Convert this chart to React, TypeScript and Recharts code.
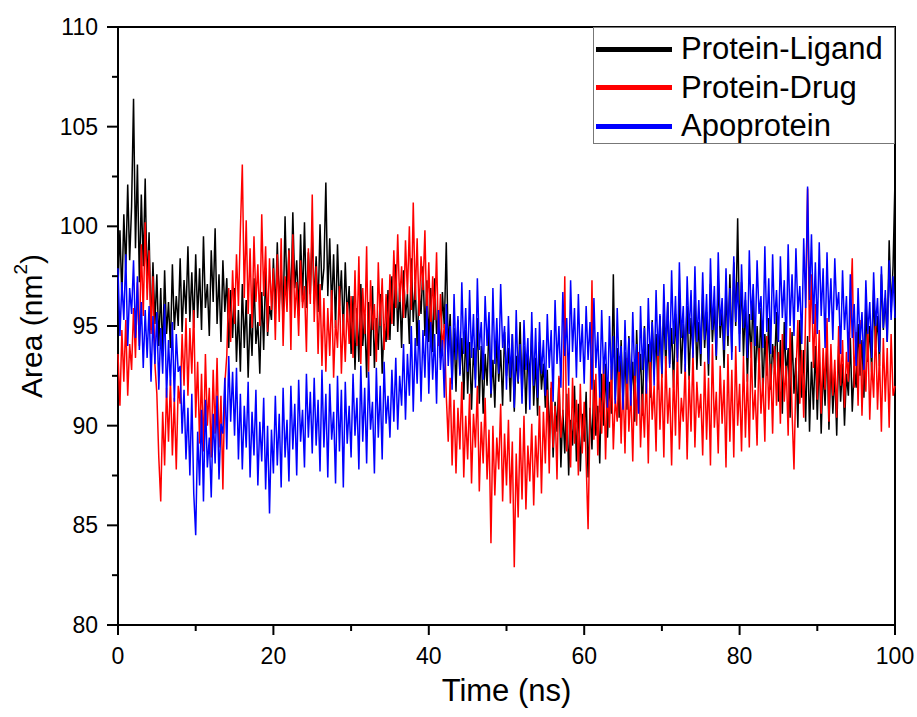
import { LineChart, Line, XAxis, YAxis, ReferenceArea, Legend, Label } from 'recharts'

// Area (nm^2) every 0.25 ns, 0–100 ns
const PROTEIN_LIGAND = [
  97.0, 99.8, 96.4, 100.6, 97.8, 102.1, 98.3, 101.0, 106.4, 98.9,
  103.1, 97.2, 101.6, 98.0, 102.4, 96.9, 99.7, 94.8, 98.2, 95.1,
  97.6, 94.0, 96.9, 93.5, 97.8, 94.6, 96.2, 93.9, 98.1, 94.8,
  96.5, 95.0, 98.4, 94.7, 97.3, 95.6, 99.0, 95.2, 97.7, 94.9,
  98.6, 95.4, 97.9, 94.8, 99.5, 95.9, 97.1, 94.5, 98.8, 96.2,
  99.9, 95.1, 97.6, 94.2, 98.3, 95.7, 97.4, 93.9, 96.8, 94.4,
  96.9, 93.2, 95.8, 92.7, 97.1, 93.9, 96.3, 92.4, 95.6, 93.5,
  97.4, 94.1, 95.2, 92.6, 96.7, 93.8, 97.9, 94.5, 96.0, 95.3,
  98.4, 95.6, 99.2, 96.0, 98.0, 95.2, 100.5, 96.4, 98.9, 95.8,
  100.7, 96.9, 98.3, 95.5, 99.6, 96.2, 100.2, 95.9, 98.7, 96.6,
  99.8, 96.1, 98.5, 95.7, 100.1, 96.8, 97.9, 102.2, 96.5, 99.4,
  95.8, 98.6, 94.9, 99.1, 96.0, 97.8, 94.6, 98.2, 95.4, 97.0,
  93.6, 96.5, 92.8, 95.9, 93.2, 97.1, 94.0, 95.6, 92.4, 96.2,
  93.5, 97.0, 92.9, 95.4, 93.8, 96.6, 92.6, 95.1, 94.2, 96.8,
  94.3, 97.5, 95.0, 98.1, 94.7, 96.9, 93.9, 97.8, 95.4, 96.6,
  94.1, 98.4, 95.2, 97.2, 94.0, 96.8, 95.6, 98.0, 94.5, 97.3,
  94.2, 96.9, 93.7, 97.4, 94.6, 95.8, 93.4, 96.7, 94.9, 99.2,
  93.8, 95.6, 92.1, 94.9, 91.7, 95.3, 92.6, 94.4, 91.3, 94.8,
  91.6, 94.2, 90.8, 93.9, 92.3, 95.4, 91.1, 94.0, 90.6, 93.6,
  92.0, 95.1, 91.4, 93.3, 90.9, 94.5, 92.2, 93.8, 91.0, 94.7,
  92.5, 93.9, 91.2, 94.6, 90.7, 93.5, 92.1, 95.2, 91.5, 94.0,
  90.6, 93.8, 92.4, 94.8, 91.0, 93.4, 90.5, 94.2, 91.8, 93.1,
  90.9, 92.8, 89.3, 91.9, 88.4, 91.2, 89.7, 92.4, 87.9, 90.8,
  88.6, 91.6, 87.5, 90.3, 89.0, 92.0, 88.2, 91.1, 87.7, 90.6,
  89.2, 91.7, 87.4, 90.9, 88.8, 92.3, 89.5, 91.0, 88.1, 92.6,
  90.0, 93.1, 89.4, 92.2, 90.6, 97.6, 91.3, 93.9, 90.4, 94.3,
  91.1, 93.7, 90.8, 94.5, 91.6, 93.2, 90.2, 94.8, 91.9, 93.6,
  90.5, 95.0, 92.2, 94.1, 91.4, 95.3, 92.7, 94.6, 91.8, 95.5,
  92.4, 95.8, 92.9, 96.2, 93.1, 94.9, 91.9, 95.6, 93.4, 96.5,
  92.6, 95.1, 93.8, 96.0, 92.3, 95.4, 93.6, 96.3, 92.8, 95.2,
  93.0, 96.6, 93.9, 95.7, 92.5, 97.1, 94.2, 96.0, 93.3, 97.4,
  94.4, 95.8, 92.9, 96.9, 94.0, 97.6, 93.7, 98.2, 95.0, 100.4,
  94.6, 97.2, 93.5, 96.3, 92.2, 95.6, 93.4, 96.8, 91.9, 95.0,
  92.8, 95.9, 91.5, 94.6, 92.5, 95.4, 91.8, 94.1, 92.9, 95.7,
  91.2, 94.3, 90.6, 95.2, 92.4, 93.9, 90.4, 94.7, 91.6, 93.4,
  89.9, 95.3, 91.4, 93.8, 90.2, 94.5, 89.7, 93.2, 90.8, 94.0,
  90.3, 93.6, 89.6, 92.9, 91.0, 94.2, 89.8, 93.4, 90.6, 92.7,
  89.5, 94.0, 91.2, 93.1, 90.0, 92.6, 91.5, 94.4, 90.7, 93.0,
  91.9, 95.1, 92.5, 94.3, 91.4, 96.2, 93.2, 95.0, 92.7, 96.8,
  93.9, 95.5, 93.0, 97.6, 94.8, 96.4, 94.2, 99.3, 95.7, 98.0,
  102.4,
]

const PROTEIN_DRUG = [
  93.6, 91.0, 94.8, 92.2, 95.3, 91.5, 94.1, 92.8, 95.9, 93.4,
  97.2, 94.0, 99.1, 95.5, 100.2, 96.3, 98.8, 94.6, 97.5, 93.1,
  91.6, 88.4, 86.2, 90.7, 88.0, 91.9, 89.2, 92.3, 88.5, 91.4,
  87.8, 92.0, 91.1, 94.6, 92.0, 95.4, 91.5, 94.9, 92.6, 95.8,
  90.4, 93.2, 89.1, 92.6, 88.7, 93.6, 90.0, 91.9, 88.4, 92.8,
  89.6, 93.4, 88.9, 91.5, 86.8, 92.1, 93.5, 96.9, 94.2, 97.8,
  95.1, 98.6, 96.0, 99.8, 103.1, 96.4, 100.3, 95.6, 98.9, 94.9,
  99.5, 96.2, 98.1, 95.0, 100.6, 96.5, 99.0, 94.7, 98.4, 95.8,
  97.9, 94.3, 98.6, 95.2, 99.4, 94.0, 97.5, 95.7, 98.8, 93.8,
  99.6, 95.4, 97.2, 94.5, 98.3, 95.9, 97.0, 93.7, 98.9, 96.1,
  101.6, 95.2, 98.0, 93.6, 97.1, 93.0, 96.4, 92.7, 95.9, 93.5,
  96.8, 92.4, 95.3, 93.9, 97.0, 92.6, 95.6, 93.2, 96.2, 94.1,
  96.5, 93.4, 97.8, 94.0, 98.5, 93.1, 96.9, 94.6, 99.0, 92.7,
  97.3, 94.8, 96.1, 93.2, 98.2, 95.0, 97.4, 93.8, 96.6, 94.3,
  97.6, 95.1, 98.8, 95.9, 99.6, 96.2, 98.0, 95.4, 99.3, 96.6,
  100.0, 95.8, 101.2, 96.3, 99.4, 95.5, 98.5, 96.8, 99.8, 95.2,
  98.2, 94.7, 97.5, 95.3, 98.7, 94.0, 96.6, 93.8, 95.1, 91.5,
  89.2, 92.4, 88.0, 91.3, 87.6, 90.9, 88.8, 92.2, 87.4, 90.5,
  88.3, 91.6, 87.1, 90.6, 88.9, 92.0, 86.7, 90.2, 88.1, 91.4,
  87.3, 89.8, 84.1, 90.0, 86.5, 89.4, 87.8, 91.1, 86.2, 89.6,
  87.0, 90.3, 86.1, 89.2, 82.9, 88.6, 85.4, 89.9, 86.3, 90.5,
  85.8, 89.0, 87.2, 90.1, 86.0, 89.5, 87.4, 91.0, 86.6, 90.7,
  88.1, 91.8, 87.6, 92.2, 88.9, 91.0, 87.3, 92.5, 89.4, 90.6,
  97.5, 88.7, 91.9, 87.9, 92.4, 89.1, 91.3, 87.5, 92.1, 88.6,
  91.2, 88.2, 84.8, 90.4, 97.3, 89.3, 92.6, 88.5, 91.7, 89.6,
  93.2, 88.3, 92.1, 89.9, 93.0, 88.8, 91.4, 90.2, 93.5, 89.1,
  92.3, 88.6, 93.4, 89.7, 91.8, 88.2, 92.9, 90.0, 93.7, 88.9,
  91.6, 89.4, 92.7, 88.1, 93.3, 90.3, 92.0, 88.7, 93.9, 89.8,
  92.6, 88.4, 93.5, 90.1, 91.9, 88.0, 92.8, 89.5, 94.0, 88.8,
  91.4, 90.2, 93.1, 88.3, 92.5, 89.7, 93.8, 88.9, 92.2, 90.4,
  91.6, 88.5, 93.2, 89.3, 92.4, 88.0, 94.1, 89.9, 91.7, 88.6,
  93.0, 90.1, 92.3, 87.9, 93.6, 89.2, 92.8, 88.4, 94.0, 90.0,
  92.1, 88.7, 93.5, 89.4, 92.6, 88.9, 94.2, 90.3, 91.8, 89.0,
  93.9, 90.6, 92.4, 89.2, 94.5, 90.8, 93.1, 89.6, 94.0, 91.0,
  93.7, 90.1, 94.6, 91.2, 93.0, 89.5, 94.9, 90.7, 87.8, 92.5,
  95.3, 91.1, 93.8, 90.4, 95.8, 101.9, 94.2, 97.6, 92.9, 96.1,
  91.3, 94.8, 90.6, 93.9, 91.8, 95.4, 90.2, 94.1, 91.5, 93.3,
  90.4, 95.0, 92.0, 94.3, 90.9, 93.7, 92.2, 95.6, 98.4, 91.9,
  94.7, 91.0, 95.3, 90.5, 93.8, 91.7, 94.9, 90.3, 93.2, 91.4,
  95.1, 90.8, 93.6, 89.7, 94.4, 91.2, 93.9, 89.9, 94.6, 91.5,
  92.0,
]

const APOPROTEIN = [
  97.9, 94.5, 97.2, 95.3, 98.6, 94.0, 96.9, 95.6, 98.3, 94.4,
  97.5, 93.8, 96.2, 92.9, 95.8, 93.4, 96.0, 92.2, 95.5, 93.1,
  95.7, 91.8, 94.9, 92.6, 96.1, 91.4, 94.3, 92.0, 95.2, 91.2,
  94.6, 92.7, 93.0, 89.6, 91.8, 88.3, 90.9, 87.5, 91.6, 86.6,
  84.5, 89.7, 87.0, 90.8, 86.2, 91.3, 87.9, 89.4, 86.4, 90.6,
  88.1, 91.5, 87.3, 90.1, 89.6, 92.4, 88.8, 93.5, 90.2, 92.7,
  89.5, 92.9, 88.3, 91.6, 87.8, 91.0, 88.9, 92.2, 87.4, 90.7,
  88.5, 91.8, 87.0, 90.2, 88.2, 91.4, 86.8, 90.0, 85.6, 89.8,
  87.6, 91.5, 88.0, 90.6, 86.9, 91.9, 88.4, 90.3, 87.2, 92.0,
  88.8, 91.1, 87.5, 92.3, 89.2, 90.8, 87.9, 92.6, 89.4, 91.7,
  88.6, 92.4, 89.0, 91.3, 87.7, 92.8, 88.9, 91.6, 87.4, 92.1,
  89.3, 90.7, 87.1, 92.5, 88.7, 91.8, 86.9, 92.2, 89.1, 91.0,
  88.4, 92.6, 89.5, 91.4, 87.8, 93.0, 89.2, 91.9, 88.1, 92.7,
  89.8, 91.2, 87.6, 92.9, 89.4, 92.0, 88.3, 93.2, 90.1, 91.5,
  89.4, 92.8, 90.2, 93.4, 89.8, 92.5, 91.0, 94.1, 90.3, 93.6,
  91.5, 95.0, 90.7, 94.4, 92.1, 95.3, 91.2, 94.8, 92.4, 96.0,
  91.6, 95.2, 92.3, 94.6, 91.1, 95.8, 92.8, 94.3, 91.4, 96.1,
  93.0, 95.0, 91.8, 96.6, 93.3, 95.5, 92.5, 97.2, 93.6, 95.9,
  92.7, 96.8, 93.4, 95.6, 91.9, 97.4, 93.8, 95.2, 92.3, 96.5,
  94.0, 95.7, 91.6, 96.9, 93.1, 95.4, 92.6, 97.1, 93.9, 95.0,
  91.8, 95.5, 92.4, 94.6, 90.9, 95.8, 92.2, 94.1, 91.1, 95.3,
  92.8, 94.4, 90.8, 95.7, 92.0, 94.9, 91.4, 95.2, 92.6, 94.3,
  91.5, 95.6, 92.9, 94.8, 91.2, 96.3, 93.1, 95.0, 91.9, 96.7,
  93.5, 95.4, 92.0, 97.3, 93.7, 95.9, 92.4, 96.6, 93.2, 95.1,
  92.1, 96.0, 93.3, 95.2, 91.8, 96.4, 92.9, 94.7, 91.4, 95.8,
  92.6, 94.2, 90.9, 95.5, 92.3, 94.5, 91.1, 95.9, 92.7, 94.0,
  90.8, 95.3, 92.1, 94.4, 91.0, 95.7, 92.5, 94.1, 90.6, 96.0,
  92.8, 94.9, 91.6, 96.4, 93.2, 95.2, 92.0, 96.8, 93.5, 95.6,
  92.6, 97.1, 93.8, 96.2, 92.9, 97.8, 94.1, 96.5, 93.2, 98.2,
  94.4, 96.0, 92.7, 97.5, 94.6, 96.8, 93.4, 98.0, 94.2, 96.3,
  93.6, 97.7, 94.3, 96.6, 93.1, 98.4, 94.8, 97.0, 93.5, 98.7,
  95.0, 96.4, 93.8, 97.9, 94.5, 96.9, 93.3, 98.5, 95.2, 97.2,
  93.7, 98.1, 94.9, 96.7, 93.4, 98.8, 95.3, 97.1, 94.0, 98.3,
  95.6, 96.5, 93.9, 99.0, 94.7, 97.4, 93.6, 98.6, 95.1, 96.8,
  94.2, 98.5, 95.4, 97.3, 93.8, 99.1, 95.0, 97.6, 94.5, 98.9,
  95.7, 97.0, 94.1, 99.4, 95.9, 102.0, 96.3, 99.6, 95.1, 98.2,
  94.6, 99.2, 95.5, 97.9, 93.9, 98.7, 95.2, 97.4, 94.3, 98.4,
  95.8, 96.7, 93.6, 97.8, 94.8, 96.5, 93.2, 97.6, 94.4, 96.1,
  93.0, 96.9, 94.1, 95.7, 92.8, 97.3, 94.6, 96.2, 93.4, 97.7,
  95.0, 96.4, 93.7, 98.0, 94.9, 96.8, 94.2, 98.3, 95.3, 97.5,
  95.4,
]

const X_TICKS = [0, 10, 20, 30, 40, 50, 60, 70, 80, 90, 100]
const Y_TICKS = [80, 82.5, 85, 87.5, 90, 92.5, 95, 97.5, 100, 102.5, 105, 107.5, 110]

const SERIES = [
  { key: 'pl', name: 'Protein-Ligand', color: '#000000' },
  { key: 'pd', name: 'Protein-Drug', color: '#ff0000' },
  { key: 'apo', name: 'Apoprotein', color: '#0000ff' },
]

const FONT = '"Liberation Sans", Arial, sans-serif'

const data = PROTEIN_LIGAND.map((v, i) => ({
  t: i * 0.25,
  pl: v,
  pd: PROTEIN_DRUG[i],
  apo: APOPROTEIN[i],
}))

function XTick({ x, y, payload }: any) {
  const major = payload.value % 20 === 0
  return (
    <g>
      <line x1={x} y1={y} x2={x} y2={y + (major ? 10 : 6)} stroke="#000" strokeWidth={2} />
      {major && (
        <text x={x} y={y + 39} textAnchor="middle" fontSize={23} fontFamily={FONT} fill="#000">
          {payload.value}
        </text>
      )}
    </g>
  )
}

function YTick({ x, y, payload }: any) {
  const major = payload.value % 5 === 0
  return (
    <g>
      <line x1={x} y1={y} x2={x - (major ? 11 : 6)} y2={y} stroke="#000" strokeWidth={2} />
      {major && (
        <text x={x - 20} y={y + 8} textAnchor="end" fontSize={23} fontFamily={FONT} fill="#000">
          {payload.value}
        </text>
      )}
    </g>
  )
}

function LegendBox() {
  return (
    <div
      style={{
        width: 302,
        height: 117,
        border: '1px solid #777',
        background: '#fff',
        boxSizing: 'border-box',
        paddingTop: 2,
      }}
    >
      {SERIES.map((s) => (
        <div key={s.key} style={{ display: 'flex', alignItems: 'center', height: 38.5 }}>
          <div style={{ width: 76, height: 5, background: s.color, marginLeft: 2, marginRight: 9 }} />
          <span style={{ fontFamily: FONT, fontSize: 31, color: '#000', lineHeight: '38px', whiteSpace: 'nowrap' }}>
            {s.name}
          </span>
        </div>
      ))}
    </div>
  )
}

export default function App() {
  return (
    <div style={{ position: 'absolute', left: 0, top: 0, width: 917, height: 717, background: '#fff' }}>
      <LineChart width={917} height={717} data={data} margin={{ top: 27, right: 22, bottom: 32, left: 58 }}>
        <XAxis
          dataKey="t"
          type="number"
          domain={[0, 100]}
          ticks={X_TICKS}
          interval={0}
          axisLine={false}
          tickLine={false}
          tickSize={0}
          tickMargin={0}
          tick={<XTick />}
          height={60}
        >
          <Label
            content={({ viewBox }: any) => (
              <text
                x={viewBox.x + viewBox.width / 2}
                y={viewBox.y + 76}
                textAnchor="middle"
                fontSize={31}
                fontFamily={FONT}
                fill="#000"
              >
                Time (ns)
              </text>
            )}
          />
        </XAxis>
        <YAxis
          type="number"
          domain={[80, 110]}
          ticks={Y_TICKS}
          interval={0}
          axisLine={false}
          tickLine={false}
          tickSize={0}
          tickMargin={0}
          tick={<YTick />}
          width={60}
        >
          <Label
            content={({ viewBox }: any) => {
              const cx = 31
              const cy = viewBox.y + viewBox.height / 2
              return (
                <text
                  x={cx}
                  y={cy}
                  transform={`rotate(-90, ${cx}, ${cy})`}
                  textAnchor="middle"
                  dominantBaseline="central"
                  fontSize={30}
                  fontFamily={FONT}
                  fill="#000"
                >
                  Area (nm
                  <tspan dy={-11} fontSize={19}>2</tspan>
                  <tspan dy={11}>)</tspan>
                </text>
              )
            }}
          />
        </YAxis>
        {SERIES.map((s) => (
          <Line
            key={s.key}
            dataKey={s.key}
            name={s.name}
            stroke={s.color}
            strokeWidth={1.5}
            dot={false}
            type="linear"
            isAnimationActive={false}
          />
        ))}
        <ReferenceArea x1={0} x2={100} y1={80} y2={110} fill="none" stroke="#000" strokeWidth={2} />
        <Legend
          layout="vertical"
          align="center"
          verticalAlign="middle"
          wrapperStyle={{ left: 593, top: 27, width: 302 }}
          content={<LegendBox />}
        />
      </LineChart>
    </div>
  )
}
